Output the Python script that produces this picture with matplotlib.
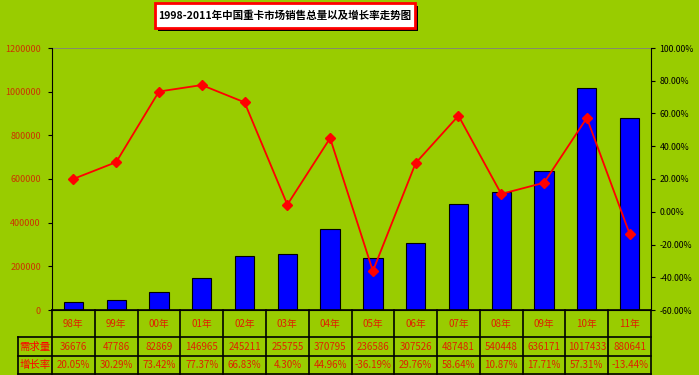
import matplotlib
matplotlib.use("Agg")
from matplotlib import pyplot as plt
from matplotlib.patches import Rectangle
from matplotlib.lines import Line2D
from matplotlib.ticker import FuncFormatter, MultipleLocator

plt.rcParams['font.family'] = ['Noto Sans CJK SC', 'DejaVu Sans']

years = ["98年", "99年", "00年", "01年", "02年", "03年", "04年",
         "05年", "06年", "07年", "08年", "09年", "10年", "11年"]
sales = [36676, 47786, 82869, 146965, 245211, 255755, 370795,
         236586, 307526, 487481, 540448, 636171, 1017433, 880641]
growth = [20.05, 30.29, 73.42, 77.37, 66.83, 4.30, 44.96,
          -36.19, 29.76, 58.64, 10.87, 17.71, 57.31, -13.44]
row_labels = ["需求量", "增长率"]
title = "1998-2011年中国重卡市场销售总量以及增长率走势图"

W, H = 699, 375
bg = "#99CC00"
txt_red = "#E02000"

fig = plt.figure(figsize=(W / 100, H / 100), dpi=100)
fig.patch.set_facecolor(bg)

# plot area in pixels
px0, px1, py0, py1 = 52, 651, 48, 310
ax = fig.add_axes([px0 / W, 1 - py1 / H, (px1 - px0) / W, (py1 - py0) / H])
ax.set_facecolor(bg)
x = list(range(len(years)))

ax.bar(x, sales, width=0.45, color="#0000FF", edgecolor="black", linewidth=0.8, zorder=2)
ax.set_xlim(-0.5, len(years) - 0.5)
ax.set_ylim(0, 1200000)
ax.yaxis.set_major_locator(MultipleLocator(200000))
ax.yaxis.set_major_formatter(FuncFormatter(lambda v, p: "%d" % v))
ax.tick_params(axis="y", labelsize=6.5, labelcolor="#CC3300", length=3, width=0.8, pad=5)
ax.set_xticks([])
ax.axhline(1200000, color="#808080", lw=1.2, zorder=1)
for s in ["left", "bottom"]:
    ax.spines[s].set_color("black")
ax.spines["top"].set_visible(False)
ax.spines["right"].set_visible(False)

ax2 = ax.twinx()
ax2.plot(x, growth, color="#FF0000", lw=1.3, marker="D", markersize=5.5,
         markerfacecolor="#FF0000", markeredgecolor="#FF0000", zorder=3)
ax2.set_ylim(-60, 100)
ax2.yaxis.set_major_locator(MultipleLocator(20))
ax2.yaxis.set_major_formatter(FuncFormatter(lambda v, p: "%.2f%%" % v))
ax2.tick_params(axis="y", labelsize=6.3, labelcolor="black", length=3, width=0.8, pad=3)
ax2.spines["right"].set_color("black")
ax2.spines["top"].set_visible(False)
ax2.spines["left"].set_visible(False)
ax2.spines["bottom"].set_visible(False)

# data table under the plot
def fy(p):
    return 1 - p / H

def fx(p):
    return p / W

colw = (px1 - px0) / len(years)
rows_y = [310, 337, 356, 374]
lab_x0 = 18
lc = dict(color="black", lw=1.2)
# horizontal lines
fig.add_artist(Line2D([fx(px0), fx(px1)], [fy(rows_y[0])] * 2, **lc))
for yy in rows_y[1:]:
    fig.add_artist(Line2D([fx(lab_x0), fx(px1)], [fy(yy)] * 2, **lc))
# vertical lines
for i in range(len(years) + 1):
    xx = px0 + i * colw
    fig.add_artist(Line2D([fx(xx)] * 2, [fy(rows_y[0]), fy(rows_y[3])], **lc))
fig.add_artist(Line2D([fx(lab_x0)] * 2, [fy(rows_y[1]), fy(rows_y[3])], **lc))

for i, yr in enumerate(years):
    cx = fx(px0 + (i + 0.5) * colw)
    fig.text(cx, fy((rows_y[0] + rows_y[1]) / 2), yr, ha="center", va="center",
             fontsize=7, color=txt_red)
    fig.text(cx, fy((rows_y[1] + rows_y[2]) / 2), str(sales[i]), ha="center", va="center",
             fontsize=7, color=txt_red)
    fig.text(cx, fy((rows_y[2] + rows_y[3]) / 2), "%.2f%%" % growth[i], ha="center",
             va="center", fontsize=7, color=txt_red)
for j, lab in enumerate(row_labels):
    fig.text(fx((lab_x0 + px0) / 2), fy((rows_y[j + 1] + rows_y[j + 2]) / 2), lab,
             ha="center", va="center", fontsize=7.5, color="#FF0000")

# title box with shadow
tx0, tx1, ty0, ty1 = 155, 415, 3, 28
fig.add_artist(Rectangle((fx(tx0 + 3), fy(ty1 + 3)), fx(tx1 - tx0), (ty1 - ty0) / H,
                         facecolor="black", edgecolor="none"))
fig.add_artist(Rectangle((fx(tx0), fy(ty1)), fx(tx1 - tx0), (ty1 - ty0) / H,
                         facecolor="white", edgecolor="#FF0000", lw=2))
fig.text(fx((tx0 + tx1) / 2), fy((ty0 + ty1) / 2), title, ha="center", va="center",
         fontsize=7.6, fontweight="bold", color="black")

fig.savefig("out.png", dpi=100, facecolor=bg)
